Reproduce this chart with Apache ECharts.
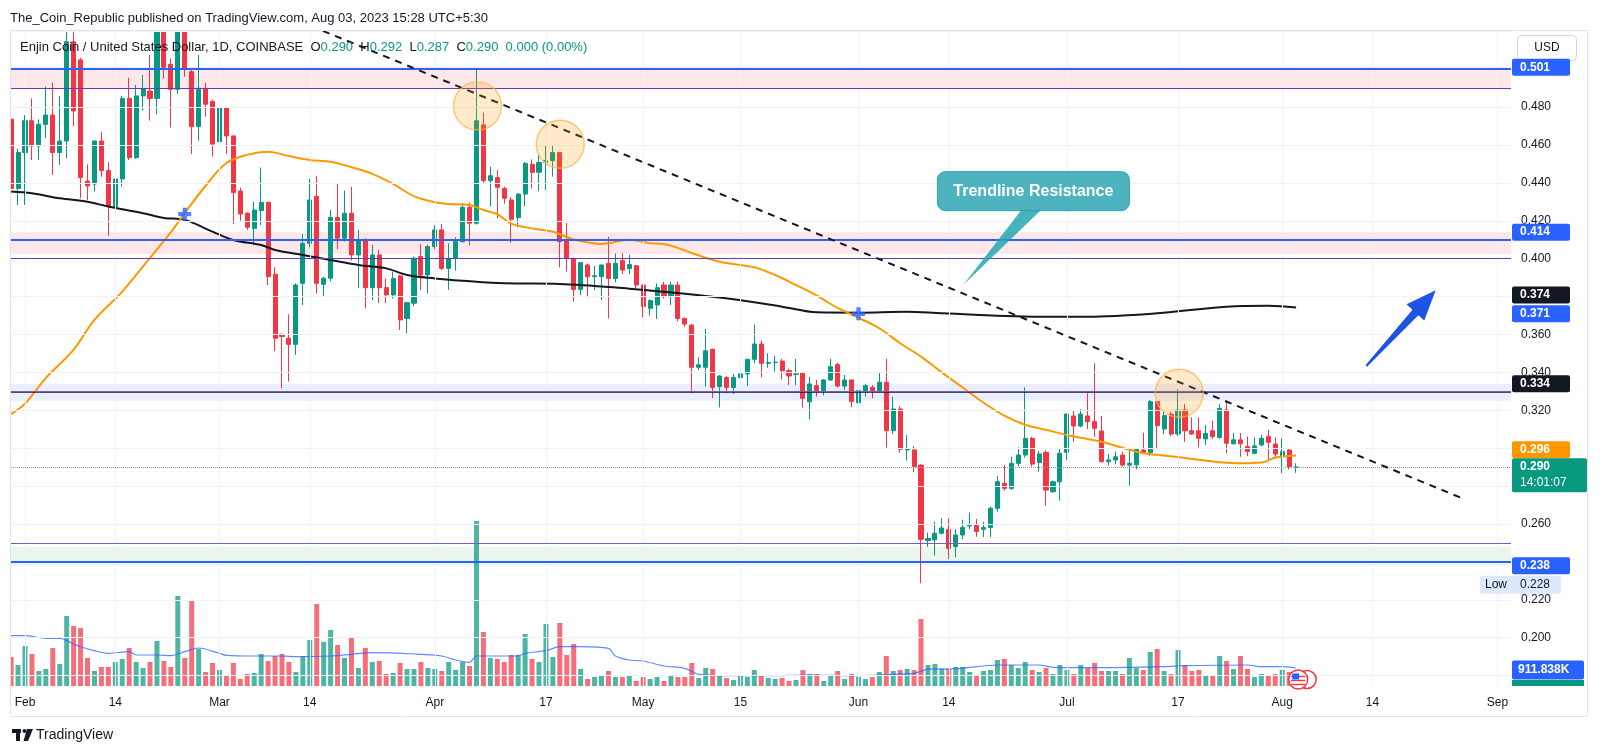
<!DOCTYPE html>
<html><head><meta charset="utf-8">
<script src="https://cdn.jsdelivr.net/npm/echarts@6/dist/echarts.min.js"></script>
<style>html,body{margin:0;padding:0;background:#fff;}#c{width:1600px;height:755px;}</style>
</head><body><div id="c"></div>
<script>
// ---------------- DATA ----------------
const startDate = '2023-01-30';
const open = [
.4736,.4371,.4560,.4728,.4595,.4709,.4758,.4560,.4621,.5145,
.5049,.4410,.4394,.4621,.4465,.4276,.4421,.4846,.4533,.4859,
.4885,.4846,.5250,.5026,.4894,.5250,.4987,.4697,.4899,.4829,
.4617,.4797,.4648,.4357,.4240,.4160,.4254,.4298,.3918,.3601,
.3580,.3548,.3870,.4081,.4328,.3865,.3897,.4218,.4108,.4240,
.4020,.4099,.3847,.4020,.3847,.3809,.3909,.3685,.3765,.4011,
.3914,.4064,.4152,.3949,.4002,.4090,.4271,.4187,.4706,.4412,
.4428,.4371,.4310,.4217,.4341,.4498,.4456,.4508,.4517,.4560,
.4099,.4002,.3838,.3967,.3905,.3905,.3976,.3896,.3990,.3948,
.3963,.3861,.3738,.3756,.3861,.3800,.3861,.3685,.3650,.3427,
.3427,.3522,.3325,.3373,.3320,.3373,.3392,.3469,.3550,.3448,
.3452,.3460,.3409,.3390,.3398,.3245,.3330,.3304,.3360,.3441,
.3328,.3360,.3240,.3304,.3321,.3304,.3348,.3092,.3207,.2991,
.2991,.2911,.2512,.2516,.2551,.2572,.2480,.2542,.2590,.2598,
.2572,.2581,.2683,.2815,.2788,.2920,.2964,.3052,.2925,.2978,
.2770,.2823,.2978,.3170,.3117,.3170,.3140,.3091,.2929,.2938,
.2964,.2911,.2912,.2990,.2976,.3246,.3101,.3180,.3075,.3202,
.3092,.3092,.3049,.3092,.3057,.3202,.3023,.3044,.3008,.2973,
.3017,.3061,.3022,.2961,.2990,.2900];
const close = [
.4371,.4560,.4728,.4595,.4709,.4758,.4560,.4621,.5145,.4780,
.4428,.4384,.4621,.4465,.4275,.4421,.4846,.4533,.4859,.4899,
.4846,.5250,.5010,.4894,.5250,.5000,.4697,.4899,.4815,.4605,
.4797,.4648,.4349,.4236,.4166,.4257,.4298,.3905,.3580,.3589,
.3548,.3861,.4081,.4310,.3870,.3897,.4218,.4108,.4240,.4020,
.4099,.3847,.4020,.3847,.3809,.3896,.3677,.3768,.4002,.3914,
.4064,.4152,.3949,.4002,.4090,.4271,.4187,.4728,.4412,.4438,
.4377,.4319,.4208,.4341,.4503,.4456,.4508,.4517,.4560,.4090,
.4002,.3838,.3979,.3905,.3910,.3967,.3896,.3976,.3940,.3969,
.3861,.3747,.3779,.3847,.3800,.3861,.3685,.3655,.3427,.3440,
.3514,.3320,.3381,.3320,.3373,.3392,.3469,.3550,.3448,.3452,
.3454,.3409,.3381,.3392,.3263,.3339,.3304,.3360,.3430,.3328,
.3360,.3246,.3304,.3330,.3304,.3348,.3092,.3207,.2994,.2998,
.2903,.2519,.2523,.2551,.2579,.2471,.2542,.2581,.2592,.2560,
.2581,.2683,.2823,.2788,.2920,.2964,.3052,.2916,.2970,.2779,
.2823,.2973,.3180,.3117,.3180,.3140,.3105,.2929,.2938,.2955,
.2911,.2920,.2994,.2976,.3246,.3119,.3172,.3075,.3202,.3092,
.3075,.3052,.3078,.3061,.3210,.3026,.3044,.3023,.2982,.3012,
.3052,.3031,.2969,.2982,.2903,.2900];
const high = [
.4770,.4580,.4758,.4846,.4735,.4908,.4929,.4859,.5300,.5280,
.5060,.4498,.4625,.4667,.4509,.4438,.4860,.4955,.4917,.4970,
.5075,.5350,.5300,.5057,.5400,.5300,.5005,.5075,.4929,.4840,
.4867,.4802,.4650,.4375,.4245,.4301,.4481,.4300,.3955,.3605,
.3707,.3870,.4130,.4421,.4438,.3905,.4257,.4398,.4359,.4380,
.4152,.4108,.4073,.4047,.3896,.3932,.3915,.3772,.4011,.4076,
.4073,.4178,.4183,.4081,.4113,.4292,.4296,.5000,.4771,.4486,
.4468,.4380,.4325,.4345,.4510,.4524,.4551,.4600,.4600,.4562,
.4187,.4005,.3981,.3975,.3962,.3970,.4116,.4028,.4028,.4021,
.3966,.3864,.3785,.3870,.3879,.3879,.3879,.3690,.3655,.3480,
.3629,.3525,.3385,.3380,.3392,.3448,.3472,.3652,.3568,.3501,
.3487,.3471,.3420,.3471,.3400,.3377,.3360,.3365,.3471,.3451,
.3386,.3362,.3310,.3340,.3333,.3400,.3471,.3272,.3220,.3070,
.3011,.2915,.2554,.2612,.2630,.2630,.2572,.2623,.2660,.2626,
.2612,.2692,.2853,.2911,.2955,.3004,.3321,.3060,.2985,.2990,
.2830,.3000,.3185,.3201,.3207,.3290,.3448,.3170,.2969,.2982,
.2982,.2990,.3000,.3082,.3254,.3250,.3193,.3193,.3311,.3233,
.3163,.3163,.3122,.3145,.3233,.3251,.3080,.3080,.3061,.3057,
.3070,.3096,.3057,.3052,.2999,.2920];
const low = [
.4213,.4284,.4284,.4521,.4521,.4635,.4442,.4495,.4530,.4700,
.4319,.4310,.4354,.4433,.4122,.4160,.4380,.4520,.4526,.4781,
.4729,.4762,.4950,.4692,.4870,.4960,.4553,.4623,.4750,.4539,
.4583,.4553,.4182,.4200,.4152,.4072,.4178,.3861,.3513,.3316,
.3351,.3492,.3756,.4060,.3817,.3800,.3880,.4050,.4090,.3990,
.3844,.3738,.3782,.3765,.3765,.3790,.3624,.3606,.3750,.3835,
.3817,.4050,.3940,.3835,.3937,.4085,.4070,.4180,.4400,.4275,
.4213,.4290,.4085,.4165,.4275,.4371,.4357,.4363,.4433,.3954,
.3932,.3773,.3808,.3796,.3835,.3782,.3685,.3875,.3919,.3919,
.3844,.3691,.3700,.3682,.3790,.3756,.3670,.3641,.3290,.3413,
.3325,.3265,.3215,.3290,.3286,.3325,.3328,.3448,.3374,.3425,
.3404,.3363,.3333,.3333,.3214,.3152,.3272,.3280,.3355,.3320,
.3307,.3216,.3193,.3272,.3263,.3300,.3003,.3075,.2977,.2935,
.2873,.2287,.2480,.2433,.2545,.2415,.2424,.2520,.2572,.2533,
.2530,.2530,.2665,.2776,.2780,.2903,.2950,.2903,.2876,.2697,
.2765,.2723,.2938,.3034,.3110,.3101,.3061,.2924,.2908,.2915,
.2903,.2802,.2888,.2970,.2960,.2994,.3075,.3064,.3064,.3034,
.3070,.3004,.3017,.3050,.3050,.2973,.3020,.2955,.2958,.2969,
.3010,.2938,.2950,.2868,.2888,.2870];
// volume, thousands
const volumeK = [
1470,1064,2027,1621,760,862,1925,1115,3546,3040,
2938,1418,760,963,963,1216,1368,1925,1216,912,
1216,2280,1267,963,4560,1418,4306,1874,709,1165,
811,557,1165,355,608,659,1621,1267,1520,1621,
1216,709,1520,2330,4154,2229,2837,2077,1418,2482,
912,1925,1216,1267,608,659,1165,862,862,1216,
912,862,760,1216,811,1216,1013,8359,2736,1418,
1368,1216,1570,1570,2634,1368,1216,3141,1469,3192,
1570,2128,862,355,456,507,760,456,456,507,
253,456,355,456,253,507,456,456,1165,405,
912,862,507,405,304,507,456,811,507,405,
355,405,253,304,811,608,608,253,507,760,
355,608,456,355,456,709,1520,760,811,862,
811,3394,1064,1115,862,862,963,963,709,507,
760,811,1317,1368,1064,912,1216,811,709,912,
608,1064,811,608,1064,912,1165,760,760,760,
608,1418,912,811,1722,1874,760,608,1824,1064,
760,811,557,507,1520,1267,862,1520,862,456,
608,507,608,811,709,152];
const sma50Dates = ['2023-01-30','2023-02-01','2023-02-04','2023-02-08','2023-02-11','2023-02-15','2023-02-18','2023-02-22','2023-02-24','2023-02-27','2023-03-02','2023-03-05','2023-03-08','2023-03-11','2023-03-14','2023-03-17','2023-03-20','2023-03-23','2023-03-26','2023-03-29','2023-04-01','2023-04-03','2023-04-06','2023-04-08','2023-04-10','2023-04-12','2023-04-15','2023-04-18','2023-04-21','2023-04-25','2023-04-29','2023-05-02','2023-05-04','2023-05-08','2023-05-12','2023-05-17','2023-05-20','2023-05-23','2023-05-26','2023-05-29','2023-06-01','2023-06-04','2023-06-07','2023-06-10','2023-06-13','2023-06-16','2023-06-19','2023-06-22','2023-06-25','2023-06-28','2023-07-01','2023-07-03','2023-07-06','2023-07-09','2023-07-12','2023-07-14','2023-07-17','2023-07-20','2023-07-23','2023-07-26','2023-07-29','2023-07-31','2023-08-03'];
const sma50Values = [.3180,.3235,.3370,.3520,.3677,.3826,.3960,.4140,.4241,.4385,.4505,.4548,.4565,.4542,.4521,.4512,.4483,.4448,.4395,.4330,.4298,.4289,.4283,.4257,.4235,.4185,.4160,.4142,.4102,.4078,.4100,.4082,.4078,.4030,.3984,.3955,.3914,.3861,.3805,.3740,.3688,.3633,.3554,.3483,.3400,.3320,.3240,.3172,.3124,.3097,.3070,.3055,.3034,.3002,.2973,.2965,.2953,.2939,.2926,.2920,.2924,.2950,.2962];
const sma200Dates = ['2023-01-30','2023-02-02','2023-02-06','2023-02-10','2023-02-13','2023-02-18','2023-02-21','2023-02-24','2023-02-28','2023-03-03','2023-03-07','2023-03-09','2023-03-13','2023-03-17','2023-03-21','2023-03-25','2023-03-28','2023-04-01','2023-04-05','2023-04-11','2023-04-19','2023-04-29','2023-05-07','2023-05-14','2023-05-21','2023-05-26','2023-06-01','2023-06-08','2023-06-13','2023-06-28','2023-07-04','2023-07-14','2023-07-24','2023-07-30','2023-08-03'];
const sma200Values = [.4354,.4345,.4319,.4301,.4275,.4240,.4215,.4205,.4143,.4099,.4072,.4046,.4019,.3993,.3967,.3949,.3914,.3896,.3884,.3870,.3867,.3842,.3815,.3786,.3747,.3717,.3715,.3720,.3712,.3694,.3694,.3712,.3747,.3752,.3743];
const volMaDates = ['2023-01-30','2023-02-01','2023-02-04','2023-02-06','2023-02-08','2023-02-09','2023-02-11','2023-02-13','2023-02-16','2023-02-17','2023-02-20','2023-02-22','2023-02-24','2023-02-26','2023-03-01','2023-03-02','2023-03-06','2023-03-10','2023-03-12','2023-03-17','2023-03-20','2023-03-23','2023-03-29','2023-04-02','2023-04-04','2023-04-06','2023-04-07','2023-04-10','2023-04-13','2023-04-14','2023-04-17','2023-04-19','2023-04-22','2023-04-26','2023-04-27','2023-04-29','2023-05-01','2023-05-04','2023-05-07','2023-05-09','2023-05-13','2023-05-19','2023-05-25','2023-05-31','2023-06-06','2023-06-09','2023-06-11','2023-06-15','2023-06-21','2023-06-27','2023-06-29','2023-07-06','2023-07-15','2023-07-18','2023-07-27','2023-07-29','2023-08-01','2023-08-03'];
const volMaValues = [2548,2548,2417,2417,2128,1991,1788,1657,1738,1570,1570,1535,1738,1925,1657,1555,1520,1520,1484,1520,1606,1687,1621,1520,1317,1200,1520,1520,1520,1657,1788,1991,1991,1910,1520,1317,1267,1013,897,593,522,522,557,522,593,643,846,876,1064,1064,947,927,978,1028,1064,978,978,912];
const crossDates = ['2023-02-24','2023-06-01'];
const crossValues = [.4235,.3709];
const tickDates = ['2023-02-01','2023-02-14','2023-03-01','2023-03-14','2023-04-01','2023-04-17','2023-05-01','2023-05-15','2023-06-01','2023-06-14','2023-07-01','2023-07-17','2023-08-01','2023-08-14','2023-09-01'];
const tickLabels = ['Feb','14','Mar','14','Apr','17','May','15','Jun','14','Jul','17','Aug','14','Sep'];
const priceLabels = [0.20,0.22,0.26,0.32,0.34,0.36,0.40,0.42,0.44,0.46,0.48];
const priceGrid = [0.18,0.20,0.22,0.24,0.26,0.28,0.30,0.32,0.34,0.36,0.38,0.40,0.42,0.44,0.46,0.48,0.50,0.52];
// drawn zones [low, high]
const zoneRed1 = [0.4894, 0.501];
const zoneRed2 = [0.4025, 0.414];
const zoneBlue = [0.325, 0.334];
const zoneGreen = [0.238, 0.248];
const lastPrice = 0.290;
// annotations (day, price)
const circleDates = ['2023-04-07','2023-04-19','2023-07-17'];
const circleOffsets = [0.15, 0.05, 0.17];
const circleValues = [.4806,.4604,.3290];
const trendStart = [42.9, .5202], trendEnd = [206.7, .2739];

// ---------------- helpers ----------------
const FONT = "'Liberation Sans', Arial, sans-serif";
const UP = '#089981', DOWN = '#f23645';
const base = Date.UTC(2023,1,1);
function dayIndex(s){const a=s.split('-').map(Number);return (Date.UTC(a[0],a[1]-1,a[2])-base)/86400000;}
const s0 = startDate.split('-').map(Number);
const dates = open.map((_,i)=>new Date(Date.UTC(s0[0],s0[1]-1,s0[2])+i*86400000).toISOString().slice(0,10));
const tickDays = tickDates.map(dayIndex);

const candleData = dates.map((d,i)=>[dayIndex(d), open[i], close[i], low[i], high[i]]);
const volData = dates.map((d,i)=>({value:[dayIndex(d), volumeK[i]], itemStyle:{color: close[i]>=open[i] ? 'rgba(8,153,129,0.72)' : 'rgba(242,54,69,0.72)'}}));
const sma50 = sma50Dates.map((d,i)=>[dayIndex(d), sma50Values[i]]);
const sma200 = sma200Dates.map((d,i)=>[dayIndex(d), sma200Values[i]]);
const volMa = volMaDates.map((d,i)=>[dayIndex(d), volMaValues[i]]);
const crosses = crossDates.map((d,i)=>[dayIndex(d), crossValues[i]]);
const circles = circleDates.map((d,i)=>[dayIndex(d)+circleOffsets[i], circleValues[i]]);

const X_MIN = -2.016, X_MAX = 213.94, Y_MIN = 0.17451, Y_MAX = 0.52016, V_MAX = 33182;

const chart = echarts.init(document.getElementById('c'), null, {renderer:'canvas', width:1600, height:755});

function zoneArea(z, color){ return [{yAxis:z[0], itemStyle:{color:color}}, {yAxis:z[1]}]; }
function hline(v, color, width, type){ return {yAxis:v, lineStyle:{color:color, width:width, type:type||'solid'}}; }

const option = {
  animation:false,
  backgroundColor:'#ffffff',
  textStyle:{fontFamily:FONT},
  grid:[{left:11, right:89, top:31, bottom:69, containLabel:false, outerBoundsMode:'none'}],
  xAxis:[{type:'value', min:X_MIN, max:X_MAX, gridIndex:0,
    axisLine:{show:false}, axisTick:{show:false}, splitLine:{show:false},
    axisLabel:{customValues:tickDays, color:'#131722', fontSize:12, fontFamily:FONT, margin:11,
      formatter:function(v){const k=tickDays.indexOf(Math.round(v));return k>=0?tickLabels[k]:'';}}}],
  yAxis:[
    {type:'value', position:'right', min:Y_MIN, max:Y_MAX, gridIndex:0, scale:true,
      axisLine:{show:false}, axisTick:{show:false}, splitLine:{show:false},
      axisLabel:{customValues:priceLabels, align:'left', margin:10, color:'#131722', fontSize:12, fontFamily:FONT,
        formatter:function(v){return Number(v).toFixed(3);}}},
    {type:'value', min:0, max:V_MAX, gridIndex:0, show:false, splitLine:{show:false}}
  ],
  series:[
    {type:'line', name:'grid', data:[], silent:true, z:0, symbol:'none',
      markLine:{silent:true, symbol:['none','none'], label:{show:false}, animation:false,
        lineStyle:{color:'#f0f3fa', width:1, type:'solid'},
        data: priceGrid.map(p=>({yAxis:p})).concat(tickDays.map(d=>({xAxis:d})))}},
    {type:'bar', name:'Volume', xAxisIndex:0, yAxisIndex:1, data:volData, barWidth:5, silent:true, z:1},
    {type:'line', name:'Vol MA', xAxisIndex:0, yAxisIndex:1, data:volMa, smooth:0.3, symbol:'none', silent:true, z:2,
      lineStyle:{color:'rgba(41,98,255,0.75)', width:1.2}},
    {type:'candlestick', name:'ENJUSD', data:candleData, barWidth:4.6, z:3, clip:true,
      itemStyle:{color:UP, color0:DOWN, borderColor:UP, borderColor0:DOWN, borderColorDoji:UP, borderWidth:1}},
    {type:'line', name:'SMA200', data:sma200, smooth:0.35, symbol:'none', silent:true, z:4,
      lineStyle:{color:'#131722', width:2}},
    {type:'line', name:'SMA50', data:sma50, smooth:0.35, symbol:'none', silent:true, z:4,
      lineStyle:{color:'#ff9800', width:2}},
    {type:'line', name:'zones', data:[], silent:true, z:5, symbol:'none',
      markArea:{silent:true, data:[
        zoneArea(zoneRed1,'rgba(242,54,69,0.12)'),
        zoneArea(zoneRed2,'rgba(242,54,69,0.12)'),
        zoneArea(zoneBlue,'rgba(41,98,255,0.10)'),
        zoneArea(zoneGreen,'rgba(76,175,80,0.11)')]},
      markLine:{silent:true, symbol:['none','none'], label:{show:false}, animation:false, data:[
        hline(zoneRed1[1],'#2962ff',2), hline(zoneRed1[0],'#673ab7',1),
        hline(zoneRed2[1],'#2962ff',2), hline(zoneRed2[0],'#673ab7',1),
        hline(zoneBlue[1],'#131722',1.5), hline(zoneBlue[0],'#7e57c2',1),
        hline(zoneGreen[1],'#7e57c2',1), hline(zoneGreen[0],'#2962ff',2),
        hline(lastPrice,'#9598a1',1,'dotted')]}},
    {type:'scatter', name:'circles', data:circles, symbol:'circle', symbolSize:48, silent:true, z:6,
      itemStyle:{color:'rgba(255,152,0,0.25)', borderColor:'#ffb74d', borderWidth:1.3}},
    {type:'line', name:'trend', data:[trendStart, trendEnd], symbol:'none', silent:true, z:6,
      lineStyle:{color:'#131722', width:2, type:[7,6]}},
    {type:'scatter', name:'cross', data:crosses, symbol:'path://M4,0H8V4H12V8H8V12H4V8H0V4H4Z', symbolSize:13, silent:true, z:7,
      itemStyle:{color:'#2962ff'}}
  ]
};
chart.setOption(option);

// ---------------- overlays (positions through the chart's scales) ----------------
function buildGraphics(){
  const P = (d,p)=>chart.convertToPixel({gridIndex:0},[d,p]);
  const PY = p=>chart.convertToPixel({yAxisIndex:0},p);
  const VY = v=>chart.convertToPixel({yAxisIndex:1},v);
  const g = [];
  const Z = 100;
  // masks: pane clipping of wicks that leave the pane
  g.push({type:'rect', silent:true, z:Z-10, shape:{x:0,y:0,width:1600,height:30.5}, style:{fill:'#ffffff'}});
  g.push({type:'rect', silent:true, z:Z-10, shape:{x:0,y:30,width:10.5,height:690}, style:{fill:'#ffffff'}});
  // chart frame
  g.push({type:'rect', silent:true, z:Z, shape:{x:10.5,y:30.5,width:1577,height:686}, style:{fill:'none', stroke:'#e0e3eb', lineWidth:1}});
  // header
  g.push({type:'text', silent:true, z:Z, x:10, y:18, style:{text:'The_Coin_Republic published on TradingView.com, Aug 03, 2023 15:28 UTC+5:30', font:'13px '+FONT, fill:'#131722', verticalAlign:'middle'}});
  g.push({type:'text', silent:true, z:Z, x:20, y:47, style:{
    text:'{t|Enjin Coin / United States Dollar, 1D, COINBASE}  {t|O}{v|0.290}  {t|H}{v|0.292}  {t|L}{v|0.287}  {t|C}{v|0.290}  {v|0.000 (0.00%)}',
    verticalAlign:'middle', font:'13px '+FONT,
    rich:{t:{fill:'#131722', font:'13px '+FONT}, v:{fill:UP, font:'13px '+FONT}}}});
  // USD
  g.push({type:'rect', silent:true, z:Z, shape:{x:1517.5,y:35.5,width:59,height:25,r:4}, style:{fill:'#fff', stroke:'#d1d4dc', lineWidth:1}});
  g.push({type:'text', silent:true, z:Z+1, x:1547, y:48, style:{text:'USD', font:'12px '+FONT, fill:'#131722', align:'center', verticalAlign:'middle'}});
  // price scale labels
  const boxes = [
    {p:zoneRed1[1], t:'0.501', bg:'#2962ff', dy:0},
    {p:zoneRed2[1], t:'0.414', bg:'#2962ff', dy:0},
    {p:0.374, t:'0.374', bg:'#131722', dy:-13},
    {p:0.371, t:'0.371', bg:'#2962ff', dy:0},
    {p:zoneBlue[1], t:'0.334', bg:'#131722', dy:0},
    {p:0.296, t:'0.296', bg:'#ff9800', dy:-6},
    {p:zoneGreen[0], t:'0.238', bg:'#2962ff', dy:0}
  ];
  boxes.forEach(b=>{
    const y = PY(b.p)+b.dy;
    g.push({type:'rect', silent:true, z:Z, shape:{x:1512,y:y-8.5,width:58,height:17,r:2}, style:{fill:b.bg}});
    g.push({type:'text', silent:true, z:Z+1, x:1520, y:y, style:{text:b.t, font:'bold 12px '+FONT, fill:'#fff', verticalAlign:'middle'}});
  });
  const yl = PY(lastPrice);
  g.push({type:'rect', silent:true, z:Z, shape:{x:1512,y:yl-9,width:75,height:34,r:2}, style:{fill:UP}});
  g.push({type:'text', silent:true, z:Z+1, x:1520, y:yl, style:{text:'0.290', font:'bold 12px '+FONT, fill:'#fff', verticalAlign:'middle'}});
  g.push({type:'text', silent:true, z:Z+1, x:1520, y:yl+16, style:{text:'14:01:07', font:'12px '+FONT, fill:'#fff', verticalAlign:'middle'}});
  const ylow = PY(0.228);
  g.push({type:'rect', silent:true, z:Z, shape:{x:1480,y:ylow-9,width:81,height:18,r:2}, style:{fill:'#dde9fb'}});
  g.push({type:'text', silent:true, z:Z+1, x:1485, y:ylow, style:{text:'Low', font:'12px '+FONT, fill:'#131722', verticalAlign:'middle'}});
  g.push({type:'text', silent:true, z:Z+1, x:1520, y:ylow, style:{text:'0.228', font:'12px '+FONT, fill:'#131722', verticalAlign:'middle'}});
  const yv = VY(volMaValues[volMaValues.length-1]) + 2;
  g.push({type:'rect', silent:true, z:Z, shape:{x:1512,y:yv-9.5,width:72,height:19,r:2}, style:{fill:'#2962ff'}});
  g.push({type:'text', silent:true, z:Z+1, x:1518, y:yv, style:{text:'911.838K', font:'bold 12px '+FONT, fill:'#fff', verticalAlign:'middle'}});
  g.push({type:'rect', silent:true, z:Z, shape:{x:1512,y:yv+10,width:72,height:6}, style:{fill:UP}});
  // callout "Trendline Resistance"
  const tip = P(135.1, 0.3863);
  const bx = tip[0]-26, by = tip[1]-113;
  g.push({type:'polygon', silent:true, z:Z, shape:{points:[[bx+85,by+37],[bx+105,by+37],tip]}, style:{fill:'rgba(38,166,178,0.85)'}});
  g.push({type:'rect', silent:true, z:Z, shape:{x:bx,y:by,width:192,height:39,r:8}, style:{fill:'#4db3be', stroke:'#2fa2ae', lineWidth:1}});
  g.push({type:'text', silent:true, z:Z+1, x:bx+96, y:by+20, style:{text:'Trendline Resistance', font:'bold 16px '+FONT, fill:'#fff', align:'center', verticalAlign:'middle'}});
  // arrow
  const t0 = P(193.1, 0.3434), t1 = P(203.1, 0.3833);
  const dx = t1[0]-t0[0], dy = t1[1]-t0[1], L = Math.hypot(dx,dy);
  const ux = dx/L, uy = dy/L, nx = -uy, ny = ux;
  const hb = [t1[0]-30*ux, t1[1]-30*uy];
  const pt = (c,w,a)=>[c[0]+nx*w*a, c[1]+ny*w*a];
  g.push({type:'polygon', silent:true, z:Z, shape:{points:[
    pt(t0,1,1), pt(hb,4,1), pt(hb,12,1), t1, pt(hb,12,-1), pt(hb,4,-1), pt(t0,1,-1)]}, style:{fill:'#1e53e5'}});
  // event flags near last bar
  const fx = P(dayIndex('2023-08-03')+0.3, 0.3)[0], fy = VY(330);
  g.push({type:'circle', silent:true, z:Z, shape:{cx:fx+9,cy:fy,r:9}, style:{fill:'#fff', stroke:'#f23645', lineWidth:1.5}});
  g.push({type:'circle', silent:true, z:Z+1, shape:{cx:fx,cy:fy,r:9.5}, style:{fill:'#fff', stroke:'#f23645', lineWidth:1.5}});
  [ -4, 0, 4 ].forEach(o=>g.push({type:'line', silent:true, z:Z+2, shape:{x1:fx-7,y1:fy+o+1,x2:fx+7,y2:fy+o+1}, style:{stroke:'#f23645', lineWidth:1.4}}));
  g.push({type:'rect', silent:true, z:Z+3, shape:{x:fx-6,y:fy-6,width:7,height:6}, style:{fill:'#2962ff'}});
  // TradingView logo
  g.push({type:'rect', silent:true, z:Z, shape:{x:12,y:729,width:9,height:4}, style:{fill:'#131722'}});
  g.push({type:'rect', silent:true, z:Z, shape:{x:16,y:729,width:4,height:12}, style:{fill:'#131722'}});
  g.push({type:'circle', silent:true, z:Z, shape:{cx:24.5,cy:731,r:2}, style:{fill:'#131722'}});
  g.push({type:'polygon', silent:true, z:Z, shape:{points:[[27,729],[33,729],[28,741],[23.5,741]]}, style:{fill:'#131722'}});
  g.push({type:'text', silent:true, z:Z, x:36, y:735, style:{text:'TradingView', font:'14px '+FONT, fill:'#131722', verticalAlign:'middle'}});
  return g;
}
chart.setOption({graphic: buildGraphics()});
</script>
</body></html>
